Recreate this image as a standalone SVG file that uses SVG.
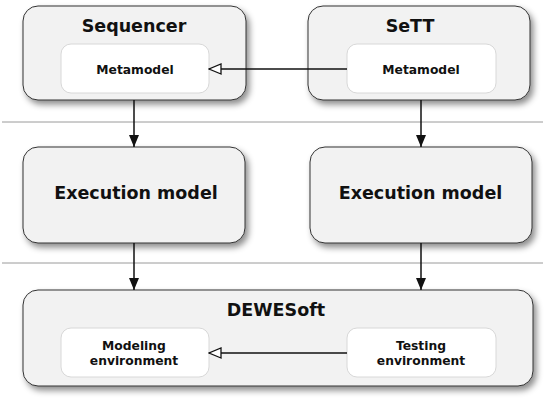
<svg xmlns="http://www.w3.org/2000/svg" width="550" height="401" viewBox="0 0 550 401">
<style>
.outer{fill:#f2f2f2;stroke:#333;stroke-width:1}
.inner{fill:#fff;stroke:#d8d8d8;stroke-width:1}
.sep{stroke:#9a9a9a;stroke-width:1}
.conn{stroke:#111;stroke-width:1.5;fill:none}
.t{font-family:"DejaVu Sans",Verdana,sans-serif;font-weight:bold;fill:#111;text-anchor:middle}
.big{font-size:17.5px}
.small{font-size:12.3px}
</style>
<defs>
<filter id="sh" x="-10%" y="-10%" width="125%" height="135%">
<feDropShadow dx="3" dy="4" stdDeviation="3" flood-color="#000" flood-opacity="0.45"/>
</filter>
<marker id="fill" markerWidth="12" markerHeight="12" viewBox="0 0 12 12" refX="12" refY="6" orient="auto" markerUnits="userSpaceOnUse">
<path d="M0,1 L12,6 L0,11 Z" fill="#111"/>
</marker>
<marker id="open" markerWidth="14" markerHeight="12" viewBox="0 0 14 12" refX="13" refY="6" orient="auto" markerUnits="userSpaceOnUse">
<path d="M1,1 L13,6 L1,11 Z" fill="#fff" stroke="#111" stroke-width="1.3"/>
</marker>
</defs>
<line class="sep" x1="2" y1="122" x2="543" y2="122"/>
<line class="sep" x1="2" y1="263" x2="543" y2="263"/>
<g id="sequencer">
<rect class="outer" x="23" y="6" width="223" height="94" rx="15" filter="url(#sh)"/>
<text class="t big" x="134" y="32">Sequencer</text>
</g>
<g id="seq-metamodel">
<rect class="inner" x="61" y="44" width="148" height="49" rx="10"/>
<text class="t small" x="135" y="74">Metamodel</text>
</g>
<g id="sett">
<rect class="outer" x="308" y="6" width="222" height="94" rx="15" filter="url(#sh)"/>
<text class="t big" x="410" y="32">SeTT</text>
</g>
<g id="sett-metamodel">
<rect class="inner" x="347" y="44" width="149" height="49" rx="10"/>
<text class="t small" x="421" y="74">Metamodel</text>
</g>
<g id="exec-left">
<rect class="outer" x="23" y="147" width="222" height="96" rx="15" filter="url(#sh)"/>
<text class="t big" x="136" y="199">Execution model</text>
</g>
<g id="exec-right">
<rect class="outer" x="310" y="147" width="222" height="96" rx="15" filter="url(#sh)"/>
<text class="t big" x="420.5" y="199">Execution model</text>
</g>
<g id="dewesoft">
<rect class="outer" x="23" y="290" width="510" height="96" rx="15" filter="url(#sh)"/>
<text class="t big" x="276" y="316">DEWESoft</text>
</g>
<g id="modeling-env">
<rect class="inner" x="61" y="328" width="148" height="49" rx="10"/>
<text class="t small" x="134" y="350">Modeling</text>
<text class="t small" x="134" y="365">environment</text>
</g>
<g id="testing-env">
<rect class="inner" x="347" y="328" width="149" height="49" rx="10"/>
<text class="t small" x="421" y="350">Testing</text>
<text class="t small" x="421" y="365">environment</text>
</g>
<g id="connectors">
<line class="conn" x1="347" y1="69" x2="209" y2="69" marker-end="url(#open)"/>
<line class="conn" x1="347" y1="353" x2="209" y2="353" marker-end="url(#open)"/>
<line class="conn" x1="134" y1="100" x2="134" y2="147" marker-end="url(#fill)"/>
<line class="conn" x1="421" y1="100" x2="421" y2="147" marker-end="url(#fill)"/>
<line class="conn" x1="134" y1="243" x2="134" y2="290" marker-end="url(#fill)"/>
<line class="conn" x1="421" y1="243" x2="421" y2="290" marker-end="url(#fill)"/>
</g>
</svg>
